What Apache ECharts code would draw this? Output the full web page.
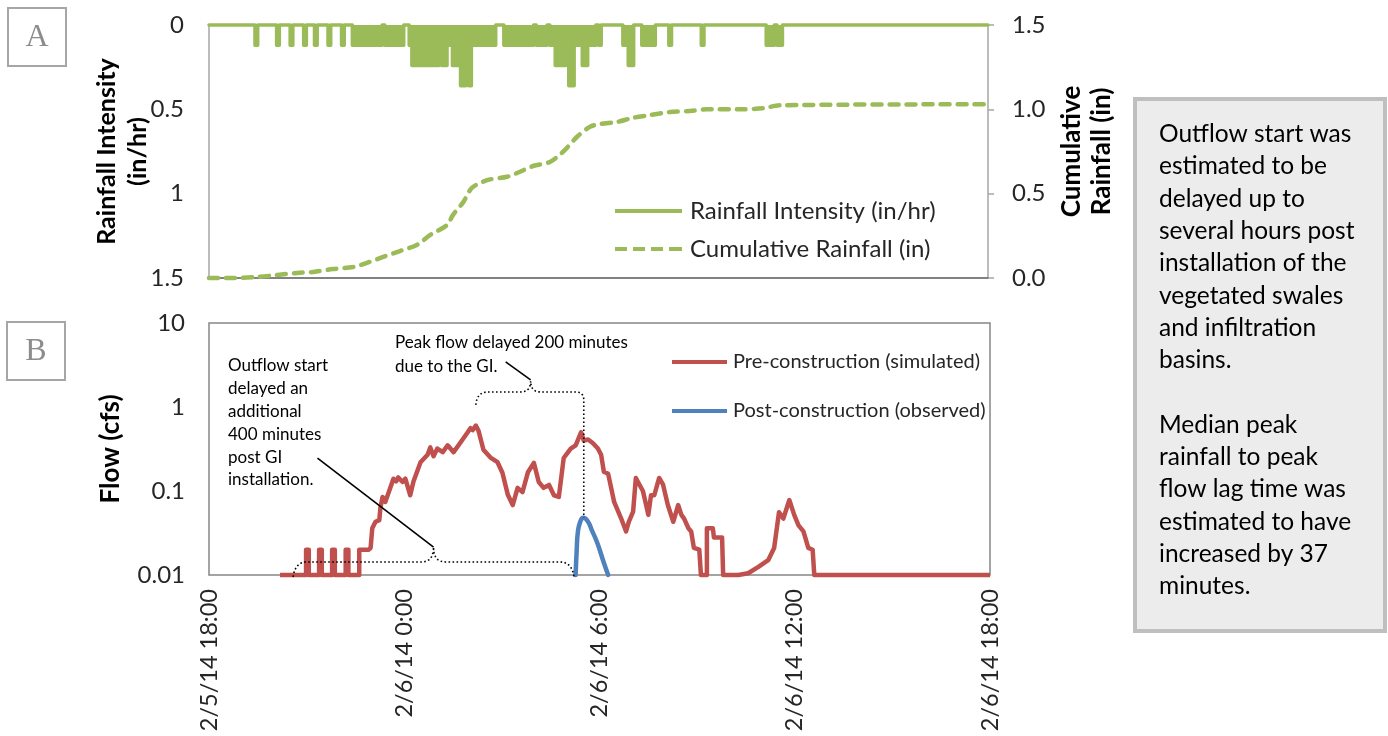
<!DOCTYPE html>
<html><head><meta charset="utf-8">
<script src="https://cdn.jsdelivr.net/npm/echarts@6/dist/echarts.min.js"></script>
<style>html,body{margin:0;padding:0;background:#fff}#c{width:1388px;height:736px}</style>
</head><body><div id="c"></div>
<script>
// time in minutes after 2/5/14 18:00
const tickLabels = ['2/5/14 18:00','2/6/14 0:00','2/6/14 6:00','2/6/14 12:00','2/6/14 18:00'];
// rainfall intensity (in/hr) as [start min, end min, value]
const rainSegments = [
  [85,90,0.12],[125,130,0.12],[150,155,0.12],[175,180,0.12],[195,200,0.12],[220,225,0.12],[245,250,0.12],
  [265,320,0.12],[325,360,0.12],[370,530,0.12],
  [375,425,0.24],[430,440,0.24],[450,475,0.24],[465,475,0.36],[480,485,0.36],
  [545,600,0.12],[605,625,0.12],[630,715,0.12],[720,725,0.12],
  [640,660,0.24],[665,675,0.36],[690,700,0.24],
  [765,785,0.12],[775,785,0.24],[800,825,0.12],[850,855,0.12],[910,915,0.12],[1030,1045,0.12],[1050,1060,0.12]
];
const cumTimes  = [0,44,90,126,163,193,229,266,292,322,353,384,409,440,451,470,486,514,551,575,599,630,654,680,704,723,754,784,815,852,889,920,981,1024,1055,1440];
const cumValues = [0,0,0.006,0.018,0.03,0.036,0.053,0.065,0.09,0.125,0.16,0.196,0.255,0.314,0.374,0.45,0.534,0.58,0.6,0.63,0.664,0.688,0.747,0.836,0.896,0.913,0.925,0.95,0.966,0.984,0.99,1.0,1.0,1.006,1.024,1.03];
// flow (cfs)
const preFlow = [
[131,0.01],[179,0.01],[179,0.02],[184,0.02],[184,0.01],
[203,0.01],[203,0.02],[208,0.02],[208,0.01],
[227,0.01],[227,0.02],[232,0.02],[232,0.01],
[252,0.01],[252,0.02],[257,0.02],[257,0.01],
[277,0.01],[277,0.02],[294,0.02],
[298,0.021],[301,0.036],[307,0.043],[314,0.045],[316,0.063],[320,0.085],[325,0.074],[334,0.108],[340,0.14],[345,0.13],[349,0.145],[357,0.128],[362,0.14],[371,0.089],[377,0.13],[390,0.22],[403,0.27],[408,0.33],[414,0.26],[421,0.32],[431,0.29],[440,0.35],[451,0.29],[464,0.38],[477,0.5],[482,0.56],[486,0.53],[492,0.6],[497,0.52],[506,0.31],[519,0.25],[532,0.22],[541,0.165],[551,0.09],[560,0.068],[569,0.109],[578,0.097],[588,0.167],[599,0.216],[608,0.128],[617,0.109],[627,0.118],[636,0.089],[645,0.085],[654,0.247],[667,0.32],[676,0.35],[686,0.5],[691,0.40],[699,0.41],[708,0.37],[717,0.32],[723,0.27],[728,0.17],[736,0.16],[747,0.074],[760,0.047],[769,0.033],[774,0.043],[782,0.057],[787,0.143],[800,0.10],[806,0.068],[810,0.052],[815,0.089],[821,0.089],[830,0.143],[837,0.12],[846,0.068],[856,0.043],[865,0.068],[871,0.052],[876,0.047],[884,0.036],[889,0.033],[894,0.021],[904,0.02],[907,0.01],[918,0.01],[918,0.036],[929,0.036],[931,0.028],[946,0.028],[948,0.01],[976,0.01],[994,0.0105],[1013,0.0125],[1031,0.015],[1042,0.021],[1051,0.056],[1059,0.047],[1070,0.078],[1079,0.052],[1087,0.039],[1096,0.033],[1105,0.021],[1113,0.02],[1116,0.01],[1440,0.01]
];
const postFlow = [[676,0.01],[678,0.02],[680,0.032],[684,0.042],[690,0.048],[698,0.044],[706,0.034],[716,0.024],[728,0.014],[736,0.01]];

const seriesNames = ['Rainfall Intensity (in/hr)','Cumulative Rainfall (in)','Pre-construction (simulated)','Post-construction (observed)'];
const noteOutflow = 'Outflow start\ndelayed an\nadditional\n400 minutes\npost GI\ninstallation.';
const notePeak = 'Peak flow delayed 200 minutes\ndue to the GI.';
const sideText = 'Outflow start was\nestimated to be\ndelayed up to\nseveral hours post\ninstallation of the\nvegetated swales\nand infiltration\nbasins.\n\nMedian peak\nrainfall to peak\nflow lag time was\nestimated to have\nincreased by 37\nminutes.';

// expand rainfall segments into a 5-minute step series
const rainSlots = new Array(289).fill(0);
rainSegments.forEach(([s, e, v]) => { for (let t = s; t < e; t += 5) rainSlots[t / 5] = Math.max(rainSlots[t / 5], v); });
const rainData = rainSlots.map((v, i) => [i * 5, v]);
const cumData = cumTimes.map((t, i) => [t, cumValues[i]]);

const FONT = 'Lato, "Open Sans", sans-serif';
const GREEN = '#9bbb59', RED = '#c0504d', BLUE = '#4f81bd';
const AXGRAY = '#a6a6a6', TXT = '#262626';
const ICON_SOLID = 'path://M0 0H67V4H0Z';
const ICON_DASH = 'path://M0 0H12V4H0Z M18 0H30V4H18Z M36 0H48V4H36Z M54 0H67V4H54Z';
const ICON_SOLID2 = 'path://M0 0H55V4H0Z';

const chart = echarts.init(document.getElementById('c'), null, {renderer: 'canvas'});
const tickFmt = v => { const i = Math.round(v / 360); return tickLabels[i] || ''; };

chart.setOption({
  animation: false,
  backgroundColor: '#fff',
  textStyle: {fontFamily: FONT},
  grid: [
    {left: 209, right: 400, top: 25, height: 253},
    {left: 209, right: 398, top: 323, height: 252, show: true, borderColor: '#868686', borderWidth: 1.5}
  ],
  xAxis: [
    {type: 'value', gridIndex: 0, min: 0, max: 1440, interval: 360, position: 'bottom',
     axisLine: {onZero: false, lineStyle: {color: '#595959', width: 1.5}}, axisTick: {show: false},
     axisLabel: {show: false}, splitLine: {show: false}},
    {type: 'value', gridIndex: 1, min: 0, max: 1440, interval: 360, position: 'bottom',
     axisLine: {show: false, onZero: false}, axisTick: {show: false}, splitLine: {show: false},
     axisLabel: {rotate: 90, formatter: tickFmt, fontSize: 23.5, color: TXT, margin: 14, fontFamily: FONT,
                 showMinLabel: true, showMaxLabel: true}}
  ],
  yAxis: [
    {type: 'value', gridIndex: 0, min: 0, max: 1.5, interval: 0.5, inverse: true, position: 'left',
     name: 'Rainfall Intensity\n(in/hr)', nameLocation: 'middle', nameGap: 56, nameRotate: 90, nameMoveOverlap: false,
     nameTextStyle: {fontWeight: 'bold', fontSize: 25, color: '#000', fontFamily: FONT, lineHeight: 31},
     axisLine: {show: true, lineStyle: {color: AXGRAY, width: 1.5}}, axisTick: {show: false},
     axisLabel: {fontSize: 24, color: TXT, margin: 25, formatter: v => String(v), fontFamily: FONT},
     splitLine: {show: false}},
    {type: 'value', gridIndex: 0, min: 0, max: 1.5, interval: 0.5, position: 'right',
     name: 'Cumulative\nRainfall (in)', nameLocation: 'middle', nameGap: 63, nameRotate: 90,
     nameTextStyle: {fontWeight: 'bold', fontSize: 26, color: '#000', fontFamily: FONT, lineHeight: 30},
     axisLine: {show: true, lineStyle: {color: AXGRAY, width: 1.5}},
     axisTick: {show: true, inside: false, length: 6, lineStyle: {color: AXGRAY, width: 1.5}},
     axisLabel: {fontSize: 24, color: TXT, margin: 24, formatter: v => v.toFixed(1), fontFamily: FONT},
     splitLine: {show: false}},
    {type: 'log', logBase: 10, gridIndex: 1, min: 0.01, max: 10, position: 'left',
     name: 'Flow (cfs)', nameLocation: 'middle', nameGap: 84, nameRotate: 90,
     nameTextStyle: {fontWeight: 'bold', fontSize: 26, color: '#000', fontFamily: FONT, lineHeight: 28},
     axisLine: {show: false}, axisTick: {show: false},
     axisLabel: {fontSize: 24, color: TXT, margin: 24, fontFamily: FONT,
                 formatter: v => v >= 1 ? String(Math.round(v)) : Number(v.toPrecision(1)).toString()},
     splitLine: {show: false}}
  ],
  legend: [
    {data: [{name: seriesNames[0], icon: ICON_SOLID}, {name: seriesNames[1], icon: ICON_DASH}],
     orient: 'vertical', left: 615, top: 199, padding: 0,
     itemWidth: 67, itemHeight: 4, itemGap: 14, selectedMode: false, itemStyle: {borderWidth: 0},
     textStyle: {fontSize: 24, lineHeight: 24, color: TXT, fontFamily: FONT, padding: [0, 0, 0, 3]}},
    {data: [{name: seriesNames[2], icon: ICON_SOLID2}, {name: seriesNames[3], icon: ICON_SOLID2}],
     orient: 'vertical', left: 672, top: 352, padding: 0,
     itemWidth: 55, itemHeight: 4, itemGap: 29, selectedMode: false, itemStyle: {borderWidth: 0},
     textStyle: {fontSize: 20, lineHeight: 20, color: TXT, fontFamily: FONT, padding: [0, 0, 0, 1]}}
  ],
  series: [
    {name: seriesNames[0], type: 'line', xAxisIndex: 0, yAxisIndex: 0, data: rainData, step: 'end',
     symbol: 'none', clip: false, color: GREEN,
     lineStyle: {color: GREEN, width: 3.5, cap: 'round', join: 'round'},
     areaStyle: {color: GREEN, opacity: 1}, z: 3},
    {name: seriesNames[1], type: 'line', xAxisIndex: 0, yAxisIndex: 1, data: cumData, smooth: 0.3,
     symbol: 'none', clip: false, color: GREEN,
     lineStyle: {color: GREEN, width: 4.5, type: [9, 8], cap: 'round'}, z: 2},
    {name: seriesNames[2], type: 'line', xAxisIndex: 1, yAxisIndex: 2, data: preFlow,
     symbol: 'none', clip: false, color: RED,
     lineStyle: {color: RED, width: 4.5, join: 'round'}, z: 3},
    {name: seriesNames[3], type: 'line', xAxisIndex: 1, yAxisIndex: 2, data: postFlow, smooth: true,
     symbol: 'none', clip: false, color: BLUE,
     lineStyle: {color: BLUE, width: 4.5, cap: 'round'}, z: 4}
  ]
});

// annotations placed through the flow axes
const P = (t, v) => chart.convertToPixel({gridIndex: 1}, [t, v]);
// build polyline points from a start point and a list of ['L',x,y] / ['Q',cx,cy,x,y] commands
function curvePoints(start, cmds) {
  const pts = [start.slice()];
  let cur = start.slice();
  cmds.forEach(c => {
    if (c[0] === 'L') { cur = [c[1], c[2]]; pts.push(cur); }
    else {
      const [cx, cy, x, y] = [c[1], c[2], c[3], c[4]];
      for (let i = 1; i <= 10; i++) {
        const s = i / 10, a = (1 - s) * (1 - s), b = 2 * s * (1 - s), d = s * s;
        pts.push([a * cur[0] + b * cx + d * x, a * cur[1] + b * cy + d * y]);
      }
      cur = [x, y];
    }
  });
  return pts;
}
const dotted = {stroke: '#000', lineWidth: 1.6, lineDash: [1.6, 2.4], fill: null};

const bx1 = P(155, 0.01)[0], bxm = P(414, 0.01)[0], bx2 = P(673, 0.01)[0];
const byB = P(0, 0.01)[1], byH = P(0, 0.0143)[1], byT = P(0, 0.0215)[1];
const bottomBrace = curvePoints([bx1, byB + 2], [
  ['Q', bx1 + 2, byH, bx1 + 14, byH], ['L', bxm - 12, byH], ['Q', bxm, byH, bxm, byT],
  ['Q', bxm, byH, bxm + 12, byH], ['L', bx2 - 14, byH], ['Q', bx2 - 2, byH, bx2, byB + 2]]);

const tx1 = P(492, 1)[0], txm = P(593, 1)[0], tx2 = P(691, 1)[0];
const tyE = P(0, 1.06)[1], tyH = P(0, 1.51)[1], tyT = P(0, 2.03)[1], tyBlue = P(0, 0.048)[1];
const topBrace = curvePoints([tx1, tyE], [
  ['Q', tx1 + 1, tyH, tx1 + 12, tyH], ['L', txm - 10, tyH], ['Q', txm, tyH, txm, tyT],
  ['Q', txm, tyH, txm + 10, tyH], ['L', tx2 - 8, tyH], ['Q', tx2, tyH, tx2, tyH + 8], ['L', tx2, tyBlue]]);

const pA1 = P(200, 0.247), pA2 = P(414, 0.0215);
const pB1 = P(547, 3.44), pB2 = P(593, 2.1);

const boxLabel = (x, y, ch) => ({
  type: 'group', x: x, y: y, children: [
    {type: 'rect', shape: {x: 0, y: 0, width: 58, height: 58}, style: {fill: '#fff', stroke: '#a6a6a6', lineWidth: 2}},
    {type: 'text', x: 29, y: 30, style: {text: ch, font: '32px "Liberation Serif", "DejaVu Serif", serif', fill: '#8c8c8c', align: 'center', verticalAlign: 'middle'}}
  ]
});

chart.setOption({
  graphic: [
    boxLabel(8, 8, 'A'),
    boxLabel(7, 322, 'B'),
    {type: 'rect', shape: {x: 1135, y: 99, width: 250, height: 532}, style: {fill: '#ececec', stroke: '#bfbfbf', lineWidth: 4}, z: 1},
    {type: 'text', x: 1159, y: 118, z: 2, style: {text: sideText, font: '24.5px ' + FONT, lineHeight: 32.3, fill: '#000', verticalAlign: 'top'}},
    {type: 'text', x: 228, y: 354, z: 10, style: {text: noteOutflow, font: '17px ' + FONT, lineHeight: 22.9, fill: '#000', verticalAlign: 'top'}},
    {type: 'text', x: 395, y: 331, z: 10, style: {text: notePeak, font: '17px ' + FONT, lineHeight: 24, fill: '#000', verticalAlign: 'top'}},
    {type: 'polyline', shape: {points: bottomBrace}, style: dotted, z: 10},
    {type: 'polyline', shape: {points: topBrace}, style: dotted, z: 10},
    {type: 'line', shape: {x1: pA1[0], y1: pA1[1], x2: pA2[0], y2: pA2[1]}, style: {stroke: '#000', lineWidth: 1.6}, z: 10},
    {type: 'line', shape: {x1: pB1[0], y1: pB1[1], x2: pB2[0], y2: pB2[1]}, style: {stroke: '#000', lineWidth: 1.6}, z: 10}
  ]
});
</script></body></html>
